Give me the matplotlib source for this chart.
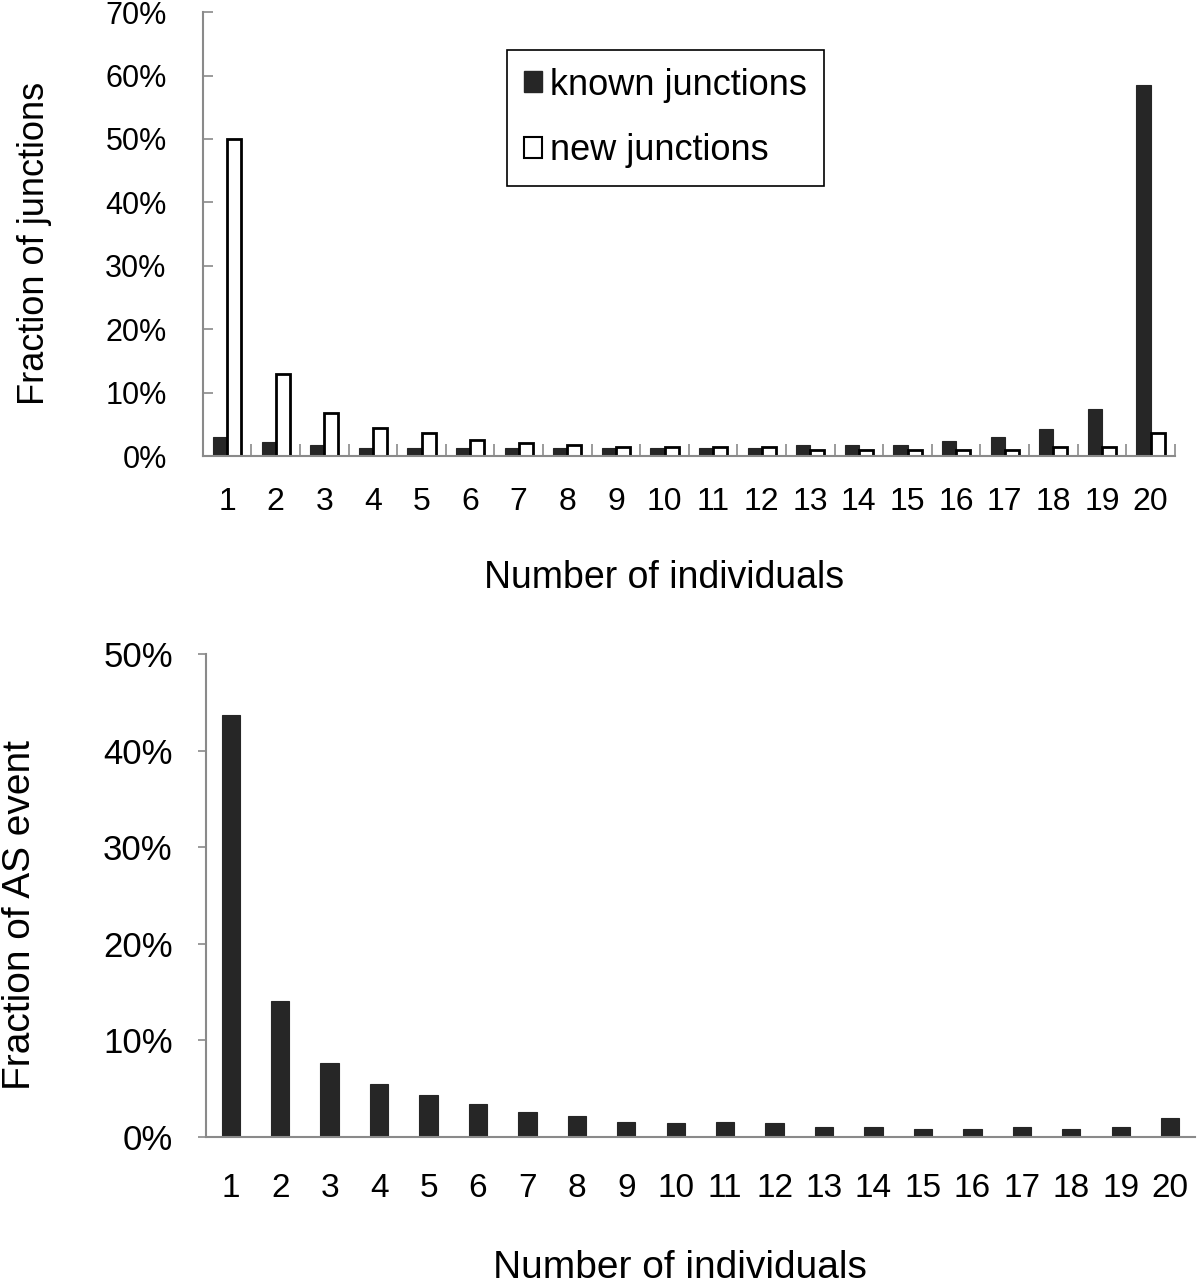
import matplotlib
matplotlib.use("Agg")
import matplotlib.pyplot as plt
from matplotlib.patches import Patch
from matplotlib.ticker import FixedLocator, FuncFormatter
import numpy as np

individuals = list(range(1, 21))
known_junctions = [3.0, 2.2, 1.8, 1.3, 1.3, 1.3, 1.3, 1.3, 1.3, 1.3,
                   1.3, 1.3, 1.8, 1.8, 1.8, 2.4, 3.0, 4.2, 7.4, 58.5]
new_junctions = [50.0, 13.0, 6.8, 4.4, 3.6, 2.6, 2.1, 1.7, 1.4, 1.4,
                 1.5, 1.5, 0.9, 0.9, 0.9, 0.9, 0.9, 1.4, 1.4, 3.6]
as_events = [43.7, 14.1, 7.7, 5.5, 4.35, 3.4, 2.6, 2.2, 1.6, 1.45,
             1.6, 1.45, 1.0, 1.0, 0.8, 0.8, 1.0, 0.8, 1.0, 2.0]
top_yticks = [0, 10, 20, 30, 40, 50, 60, 70]
bot_yticks = [0, 10, 20, 30, 40, 50]

YFONT = ['Liberation Sans', 'DejaVu Sans']
XFONT = ['Liberation Sans Narrow', 'Liberation Sans', 'DejaVu Sans']
DARK = '#262626'
SPINE = '#8a8a8a'

fig = plt.figure(figsize=(12, 12.85), dpi=100)
ax1 = fig.add_axes([0.169, 0.6451, 0.81, 0.3455])
ax2 = fig.add_axes([0.1717, 0.1152, 0.824, 0.3759])

x = np.array(individuals, dtype=float)
pct = FuncFormatter(lambda v, p: f"{v:.0f}%")

# ---- top chart
w = 0.29
ax1.bar(x - w / 2, known_junctions, width=w, color=DARK, edgecolor=DARK, linewidth=0.8)
ax1.bar(x + w / 2, new_junctions, width=w, color='white', edgecolor='black', linewidth=2.0)
ax1.set_xlim(0.5, 20.5)
ax1.set_ylim(0, 70)
ax1.set_yticks(top_yticks)
ax1.yaxis.set_major_formatter(pct)
ax1.set_xticks(individuals)
ax1.set_xticklabels([str(i) for i in individuals])
ax1.xaxis.set_minor_locator(FixedLocator([i + 0.5 for i in individuals]))
ax1.tick_params(axis='x', which='major', length=0, pad=22)
ax1.tick_params(axis='x', which='minor', direction='in', length=9, width=1.2, color=SPINE)
ax1.tick_params(axis='y', direction='in', length=7, width=1.2, color=SPINE, pad=26)
for s in ['top', 'right']:
    ax1.spines[s].set_visible(False)
for s in ['left', 'bottom']:
    ax1.spines[s].set_color(SPINE)
    ax1.spines[s].set_linewidth(1.5)
for lab in ax1.get_yticklabels():
    lab.set_fontfamily(YFONT); lab.set_fontsize(22)
for lab in ax1.get_xticklabels():
    lab.set_fontfamily(XFONT); lab.set_fontsize(23)
ax1.text(-0.173, 0.48, 'Fraction of junctions', transform=ax1.transAxes, rotation=90,
         ha='center', va='center', fontsize=26, family=YFONT)
ax1.text(0.475, -0.275, 'Number of individuals', transform=ax1.transAxes,
         ha='center', va='center', fontsize=27, family=XFONT)
handles = [Patch(facecolor=DARK, edgecolor=DARK, label='known junctions'),
           Patch(facecolor='white', edgecolor='black', linewidth=1.5, label='new junctions')]
leg = ax1.legend(handles=handles, loc='upper left', bbox_to_anchor=(0.313, 0.914),
                 borderaxespad=0, fancybox=False, framealpha=1, edgecolor='black',
                 prop={'family': YFONT, 'size': 26}, handlelength=0.5, handleheight=0.5,
                 handletextpad=0.2, labelspacing=0.85, borderpad=0.48)
leg.get_frame().set_linewidth(1.2)

# ---- bottom chart
ax2.bar(x, as_events, width=0.37, color=DARK, edgecolor=DARK, linewidth=0.8)
ax2.set_xlim(0.5, 20.5)
ax2.set_ylim(0, 50)
ax2.set_yticks(bot_yticks)
ax2.yaxis.set_major_formatter(pct)
ax2.set_xticks(individuals)
ax2.set_xticklabels([str(i) for i in individuals])
ax2.tick_params(axis='x', length=0, pad=26)
ax2.tick_params(axis='y', direction='out', length=6, width=1.2, color=SPINE, pad=18)
for s in ['top', 'right']:
    ax2.spines[s].set_visible(False)
for s in ['left', 'bottom']:
    ax2.spines[s].set_color(SPINE)
    ax2.spines[s].set_linewidth(1.5)
for lab in ax2.get_yticklabels():
    lab.set_fontfamily(YFONT); lab.set_fontsize(25)
for lab in ax2.get_xticklabels():
    lab.set_fontfamily(XFONT); lab.set_fontsize(24)
ax2.text(-0.188, 0.46, 'Fraction of AS event', transform=ax2.transAxes, rotation=90,
         ha='center', va='center', fontsize=28, family=YFONT)
ax2.text(0.479, -0.271, 'Number of individuals', transform=ax2.transAxes,
         ha='center', va='center', fontsize=28, family=XFONT)

fig.savefig('out.png', dpi=100)
